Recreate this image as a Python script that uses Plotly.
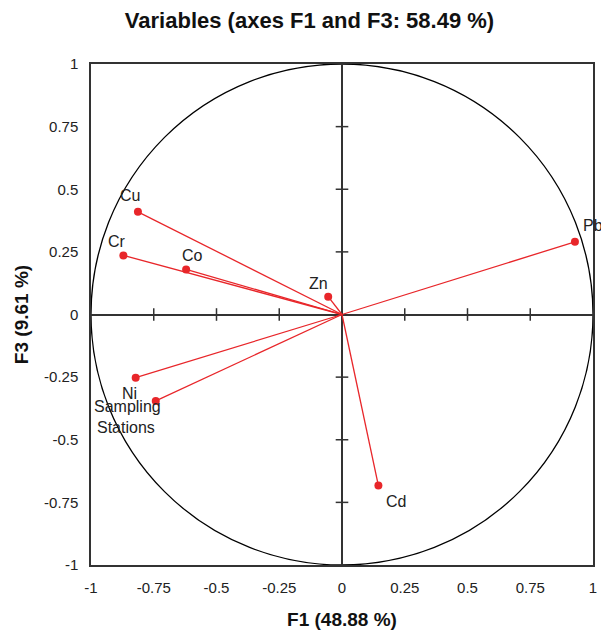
import plotly.graph_objects as go

variables = ["Cu", "Cr", "Co", "Zn", "Pb", "Cd", "Ni", "Sampling Stations"]
f1 = [-0.813, -0.871, -0.621, -0.055, 0.928, 0.145, -0.822, -0.742]
f3 = [0.41, 0.236, 0.18, 0.071, 0.29, -0.683, -0.252, -0.345]
tick_vals = [-1, -0.75, -0.5, -0.25, 0, 0.25, 0.5, 0.75, 1]
tick_text = ["-1", "-0.75", "-0.5", "-0.25", "0", "0.25", "0.5", "0.75", "1"]
# label offsets in pixels (style)
label_shift = {
    "Cu": (-8, 16), "Cr": (-6, 14), "Co": (6, 14), "Zn": (-10, 13),
    "Pb": (18, 16), "Cd": (18, -16), "Ni": (-6, -16),
}

RED = "#e8262a"
fig = go.Figure()

# correlation circle
fig.add_shape(type="circle", xref="x", yref="y", x0=-1, y0=-1, x1=1, y1=1,
              line=dict(color="black", width=1.3), layer="below")

# vectors from origin
lx, ly = [], []
for a, b in zip(f1, f3):
    lx += [0, a, None]
    ly += [0, b, None]
fig.add_trace(go.Scatter(x=lx, y=ly, mode="lines", line=dict(color=RED, width=1.3),
                         hoverinfo="skip", showlegend=False))
fig.add_trace(go.Scatter(x=f1, y=f3, mode="markers", marker=dict(color=RED, size=8),
                         text=variables, showlegend=False))

# tick marks on central axes
inner = [v for v in tick_vals if v not in (-1, 0, 1)]
fig.add_trace(go.Scatter(x=[0] * len(inner), y=inner, mode="markers",
                         marker=dict(symbol="line-ew", size=9, line=dict(color="#333", width=1.5)),
                         hoverinfo="skip", showlegend=False))
fig.add_trace(go.Scatter(x=inner, y=[0] * len(inner), mode="markers",
                         marker=dict(symbol="line-ns", size=9, line=dict(color="#333", width=1.5)),
                         hoverinfo="skip", showlegend=False))

for name, a, b in zip(variables, f1, f3):
    if name == "Sampling Stations":
        w1, w2 = name.split(" ")
        fig.add_annotation(x=a, y=b, text=w1, showarrow=False, xshift=-28, yshift=-6,
                           font=dict(size=16, color="#222"))
        fig.add_annotation(x=a, y=b, text=w2, showarrow=False, xshift=-30, yshift=-27,
                           font=dict(size=16, color="#222"))
    else:
        dx, dy = label_shift[name]
        fig.add_annotation(x=a, y=b, text=name, showarrow=False, xshift=dx, yshift=dy,
                           font=dict(size=16, color="#222"))

axis_common = dict(range=[-1, 1], tickvals=tick_vals, ticktext=tick_text, showgrid=False,
                   zeroline=True, zerolinecolor="#333", zerolinewidth=1.5,
                   showline=True, linecolor="#333", linewidth=1.5, mirror=True,
                   ticks="", tickfont=dict(size=15, color="#222"), ticklabelstandoff=8,
                   automargin=False)

fig.update_layout(
    width=601, height=632,
    margin=dict(l=91, r=8, t=64, b=67),
    paper_bgcolor="white", plot_bgcolor="white",
    font=dict(family="Liberation Sans, Arial, sans-serif", color="#111"),
    title=dict(text="<b>Variables (axes F1 and F3: 58.49 %)</b>", x=0.515, xanchor="center",
               y=0.968, yanchor="middle", font=dict(size=22, color="#111")),
    xaxis=dict(axis_common, title=dict(text="<b>F1 (48.88 %)</b>", font=dict(size=19), standoff=18)),
    yaxis=dict(axis_common, title=dict(text="<b>F3 (9.61 %)</b>", font=dict(size=19), standoff=10)),
)

fig.write_html("out.html", config={"displayModeBar": False})

# remove default page margin so the figure sits at the window's top-left
with open("out.html", encoding="utf-8") as fh:
    html = fh.read()
html = html.replace("<body>", '<body style="margin:0;padding:0;">', 1)
with open("out.html", "w", encoding="utf-8") as fh:
    fh.write(html)
